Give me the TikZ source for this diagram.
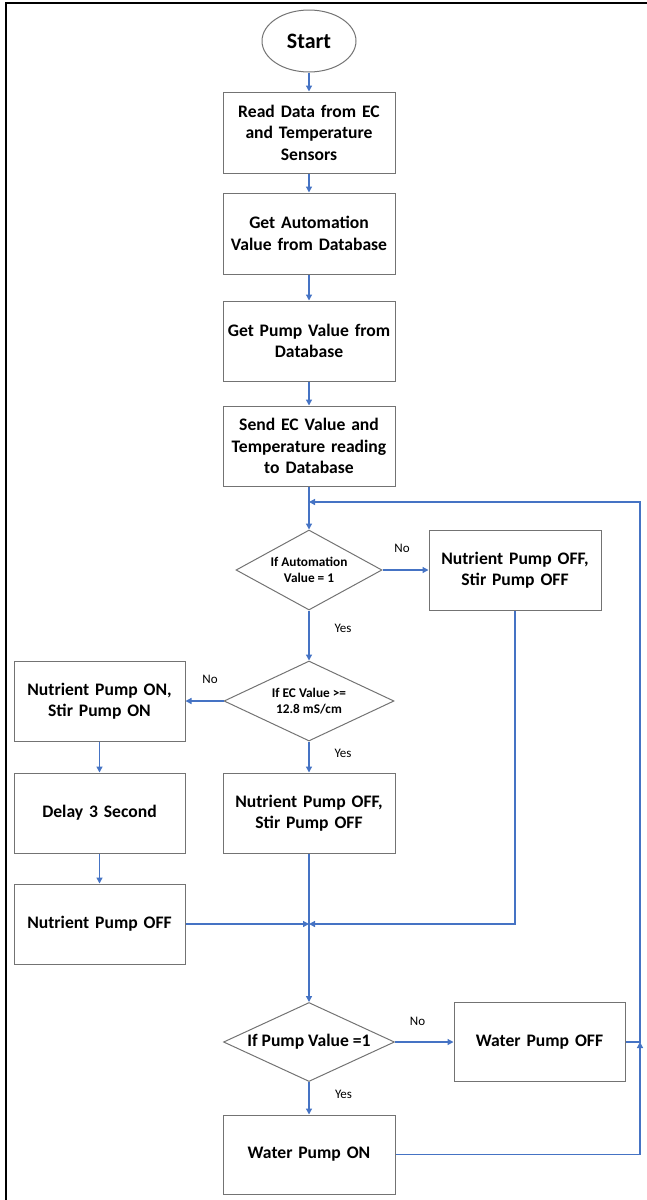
\documentclass[tikz,border=0pt]{standalone}
\usepackage{fontspec}
\setmainfont{Carlito}
\usetikzlibrary{arrows.meta,shapes.geometric}
\definecolor{LineClr}{rgb}{0.27,0.45,0.77}
\definecolor{BoxClr}{rgb}{0.45,0.45,0.45}

\begin{document}
\begin{tikzpicture}[x=1pt,y=-1pt,
  box/.style={draw=BoxClr,line width=1pt,minimum width=172pt,minimum height=80pt,
    text width=166pt,align=center,inner sep=0pt,
    font=\fontsize{17.6}{21.5}\selectfont\bfseries},
  decision/.style={diamond,draw=BoxClr,line width=1pt,inner sep=0pt,align=center},
  flow/.style={draw=LineClr,line width=1.3pt,-{Triangle[length=6pt,width=6pt]}},
  answer/.style={font=\fontsize{13}{15}\selectfont}]
\useasboundingbox (0,0) rectangle (647,1200);

% frame
\draw[line width=2.2pt] (6,1200) -- (6,3) -- (647,3);

% main column
\node[ellipse,draw=BoxClr,line width=1pt,minimum width=94pt,minimum height=62pt,
  inner sep=0pt,font=\fontsize{22}{26}\selectfont\bfseries] (Start) at (309,41) {Start};
\node[box,minimum height=81pt] (Read) at (309,132.5) {Read Data from EC\\and Temperature\\Sensors};
\node[box,minimum height=81pt] (GetAuto) at (309,233.5) {Get Automation\\Value from Database};
\node[box] (GetPump) at (309,341) {Get Pump Value from\\Database};
\node[box] (Send) at (309,446) {Send EC Value and\\Temperature reading\\to Database};

\node[decision,shape aspect=1.825,minimum width=146pt,minimum height=80pt,
  font=\fontsize{13.3}{16.7}\selectfont\bfseries] (AutoChk) at (309,570) {If Automation\\Value = 1};
\node[box] (NoAuto) at (515,570) {Nutrient Pump OFF,\\Stir Pump OFF};

\node[decision,shape aspect=2.125,minimum width=170pt,minimum height=80pt,
  font=\fontsize{13.3}{16.7}\selectfont\bfseries] (EcChk) at (309,701) {If EC Value >=\\12.8 mS/cm};
\node[box,minimum width=171pt] (NutOn) at (99.5,701) {Nutrient Pump ON,\\Stir Pump ON};
\node[box,minimum width=171pt] (Delay) at (99.5,813) {Delay 3 Second};
\node[box,minimum width=171pt] (NutOff) at (99.5,924) {Nutrient Pump OFF};
\node[box] (StirOff) at (309,813) {Nutrient Pump OFF,\\Stir Pump OFF};

\node[decision,shape aspect=2.16,minimum width=171pt,minimum height=79pt,
  font=\fontsize{17.6}{21.5}\selectfont\bfseries] (PumpChk) at (309,1042) {If Pump Value =1};
\node[box,minimum width=171pt,minimum height=79pt] (WaterOff) at (539.5,1042) {Water Pump OFF};
\node[box,minimum height=79pt] (WaterOn) at (309,1154.5) {Water Pump ON};

% answers
\node[answer] (NoA) at (402,548) {No};
\node[answer] (YesA) at (343,628) {Yes};
\node[answer] (NoB) at (210,679) {No};
\node[answer] (YesB) at (343,753) {Yes};
\node[answer] (NoC) at (417.5,1021) {No};
\node[answer] (YesC) at (343.5,1094) {Yes};

% helper points
\coordinate (Merge) at (309,924);
\coordinate (LoopJoin) at (640,1042);
\coordinate (LoopTop) at (640,502);
\coordinate (LoopIn) at (309,502);

% connectors
\draw[flow] (Start) -- (Read);
\draw[flow] (Read) -- (GetAuto);
\draw[flow] (GetAuto) -- (GetPump);
\draw[flow] (GetPump) -- (Send);
\draw[flow] (Send) -- (AutoChk);
\draw[flow] (AutoChk) -- (NoAuto);
\draw[flow] (AutoChk) -- (EcChk);
\draw[flow] (EcChk) -- (NutOn);
\draw[flow] (EcChk) -- (StirOff);
\draw[flow] (NutOn) -- (Delay);
\draw[flow] (Delay) -- (NutOff);
\draw[flow] (NutOff) -- (Merge);
\draw[flow] (NoAuto.south) |- (Merge);
\draw[flow] (StirOff) -- (PumpChk);
\draw[flow] (PumpChk) -- (WaterOff);
\draw[flow] (PumpChk) -- (WaterOn);
\draw[flow] (WaterOn.east) -| (LoopJoin);
\draw[flow] (WaterOff.east) -- (LoopJoin) -- (LoopTop) -- (LoopIn);

\end{tikzpicture}
\end{document}
